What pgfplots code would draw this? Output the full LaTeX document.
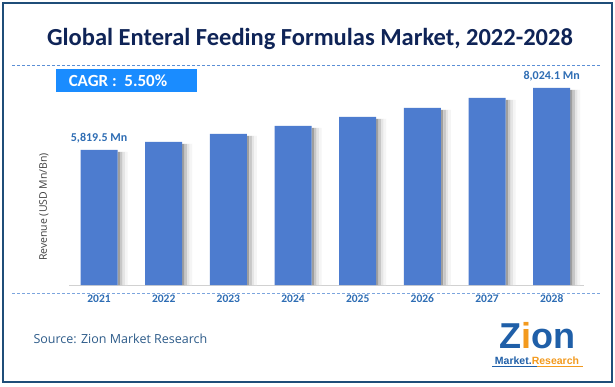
\documentclass[border=0pt]{standalone}
\usepackage{pgfplots}
\pgfplotsset{compat=1.18}
\usepackage{fontspec}
\setmainfont{Carlito}
\newfontfamily\opensans{Open Sans}
\newfontfamily\logofont{Liberation Sans}
\definecolor{barblue}{HTML}{4D7CCF}
\definecolor{titlenavy}{HTML}{0F2457}
\definecolor{labblue}{HTML}{2E6DB4}
\definecolor{cagrblue}{HTML}{1A8CFF}
\definecolor{framecol}{HTML}{1F4E79}
\definecolor{dashcol}{HTML}{5B8FD6}
\definecolor{srccol}{HTML}{2E5C8A}
\definecolor{zblue}{HTML}{1F5FA8}
\definecolor{zorange}{HTML}{F39A1E}
\pgfplotstableread{
x y
0 5819.5
1 6104
2 6389
3 6673
4 6993
5 7313
6 7669
7 8024.1
}\revtable
\pgfplotstableread{
x y
0 5750
1 6035
2 6320
3 6604
4 6924
5 7244
6 7600
7 7955
}\shadowtable
\begin{document}
\begin{tikzpicture}[x=1pt,y=1pt]
% canvas and frame
\fill[white] (0,0) rectangle (615,386);
\draw[framecol, line width=1.2pt] (3,4) rectangle (612,383);
% title
\node[font=\fontsize{24.5}{28}\selectfont\bfseries, text=titlenavy] at (310,347) {Global Enteral Feeding Formulas Market, 2022-2028};
\draw[dashcol, dash pattern=on 3pt off 2pt, line width=0.6pt] (12,321) -- (600,321);
% CAGR box
\fill[cagrblue] (56,294) rectangle (197,317);
\node[font=\fontsize{17}{19}\selectfont\bfseries, text=white] at (118,305.5) {CAGR :\ \ 5.50\%};
% y label
\node[rotate=90, font=\opensans\fontsize{10.5}{12}\selectfont, text=black!75] at (44,179) {Revenue (USD Mn/Bn)};
% lower dashed line
\draw[dashcol!80, dash pattern=on 3pt off 2pt, line width=0.6pt] (12,93) -- (600,93);
\begin{axis}[
  at={(69pt,101pt)}, anchor=south west,
  scale only axis, width=515pt, height=213.2pt,
  xmin=-0.465, xmax=7.5, ymin=1019, ymax=8600,
  axis x line*=bottom, axis y line=none,
  x axis line style={draw=black!18, line width=0.8pt, -},
  xtick=data, xticklabels={2021,2022,2023,2024,2025,2026,2027,2028},
  major tick length=0pt,
  xticklabel style={font=\fontsize{11.5}{13}\selectfont\bfseries, text=labblue, yshift=-6pt},
  clip=false,
]
% soft shadow to the right of each bar (strips of fading grey)
\addplot[ybar, bar width=2.5pt, bar shift=19.75pt, draw=none, fill=black!38] table[x=x,y=y] {\shadowtable};
\addplot[ybar, bar width=2.5pt, bar shift=22.25pt, draw=none, fill=black!22] table[x=x,y=y] {\shadowtable};
\addplot[ybar, bar width=2.5pt, bar shift=24.75pt, draw=none, fill=black!10] table[x=x,y=y] {\shadowtable};
\addplot[ybar, bar width=2.5pt, bar shift=27.25pt, draw=none, fill=black!4] table[x=x,y=y] {\shadowtable};
\addplot[ybar, bar width=37pt, bar shift=0pt, fill=barblue, draw=none] table[x=x,y=y] {\revtable};
\node[font=\fontsize{12}{14}\selectfont\bfseries, text=labblue, above] at (axis cs:0,5819.5) [yshift=3pt] {5,819.5 Mn};
\node[font=\fontsize{12}{14}\selectfont\bfseries, text=labblue, above] at (axis cs:7,8024.1) [yshift=3pt] {8,024.1 Mn};
\end{axis}
% source
\node[anchor=west, font=\opensans\fontsize{12.5}{14}\selectfont, text=srccol] at (30,47) {Source: Zion Market Research};
% logo (text approximation)
\node[anchor=base, font=\logofont\fontsize{36}{36}\selectfont\bfseries, inner sep=0pt] at (537,38) {\textcolor{zblue}{Z}\textcolor{zorange}{i}\textcolor{zblue}{on}};
\node[anchor=base, font=\logofont\fontsize{10.5}{10.5}\selectfont\bfseries, inner sep=0pt] at (537,22) {\textcolor{zblue}{Market.}\textcolor{zorange}{Research}};
\draw[zblue, line width=0.6pt] (492,20) -- (537,20);
\draw[zorange, line width=0.6pt] (537,20) -- (583,20);
\end{tikzpicture}
\end{document}
